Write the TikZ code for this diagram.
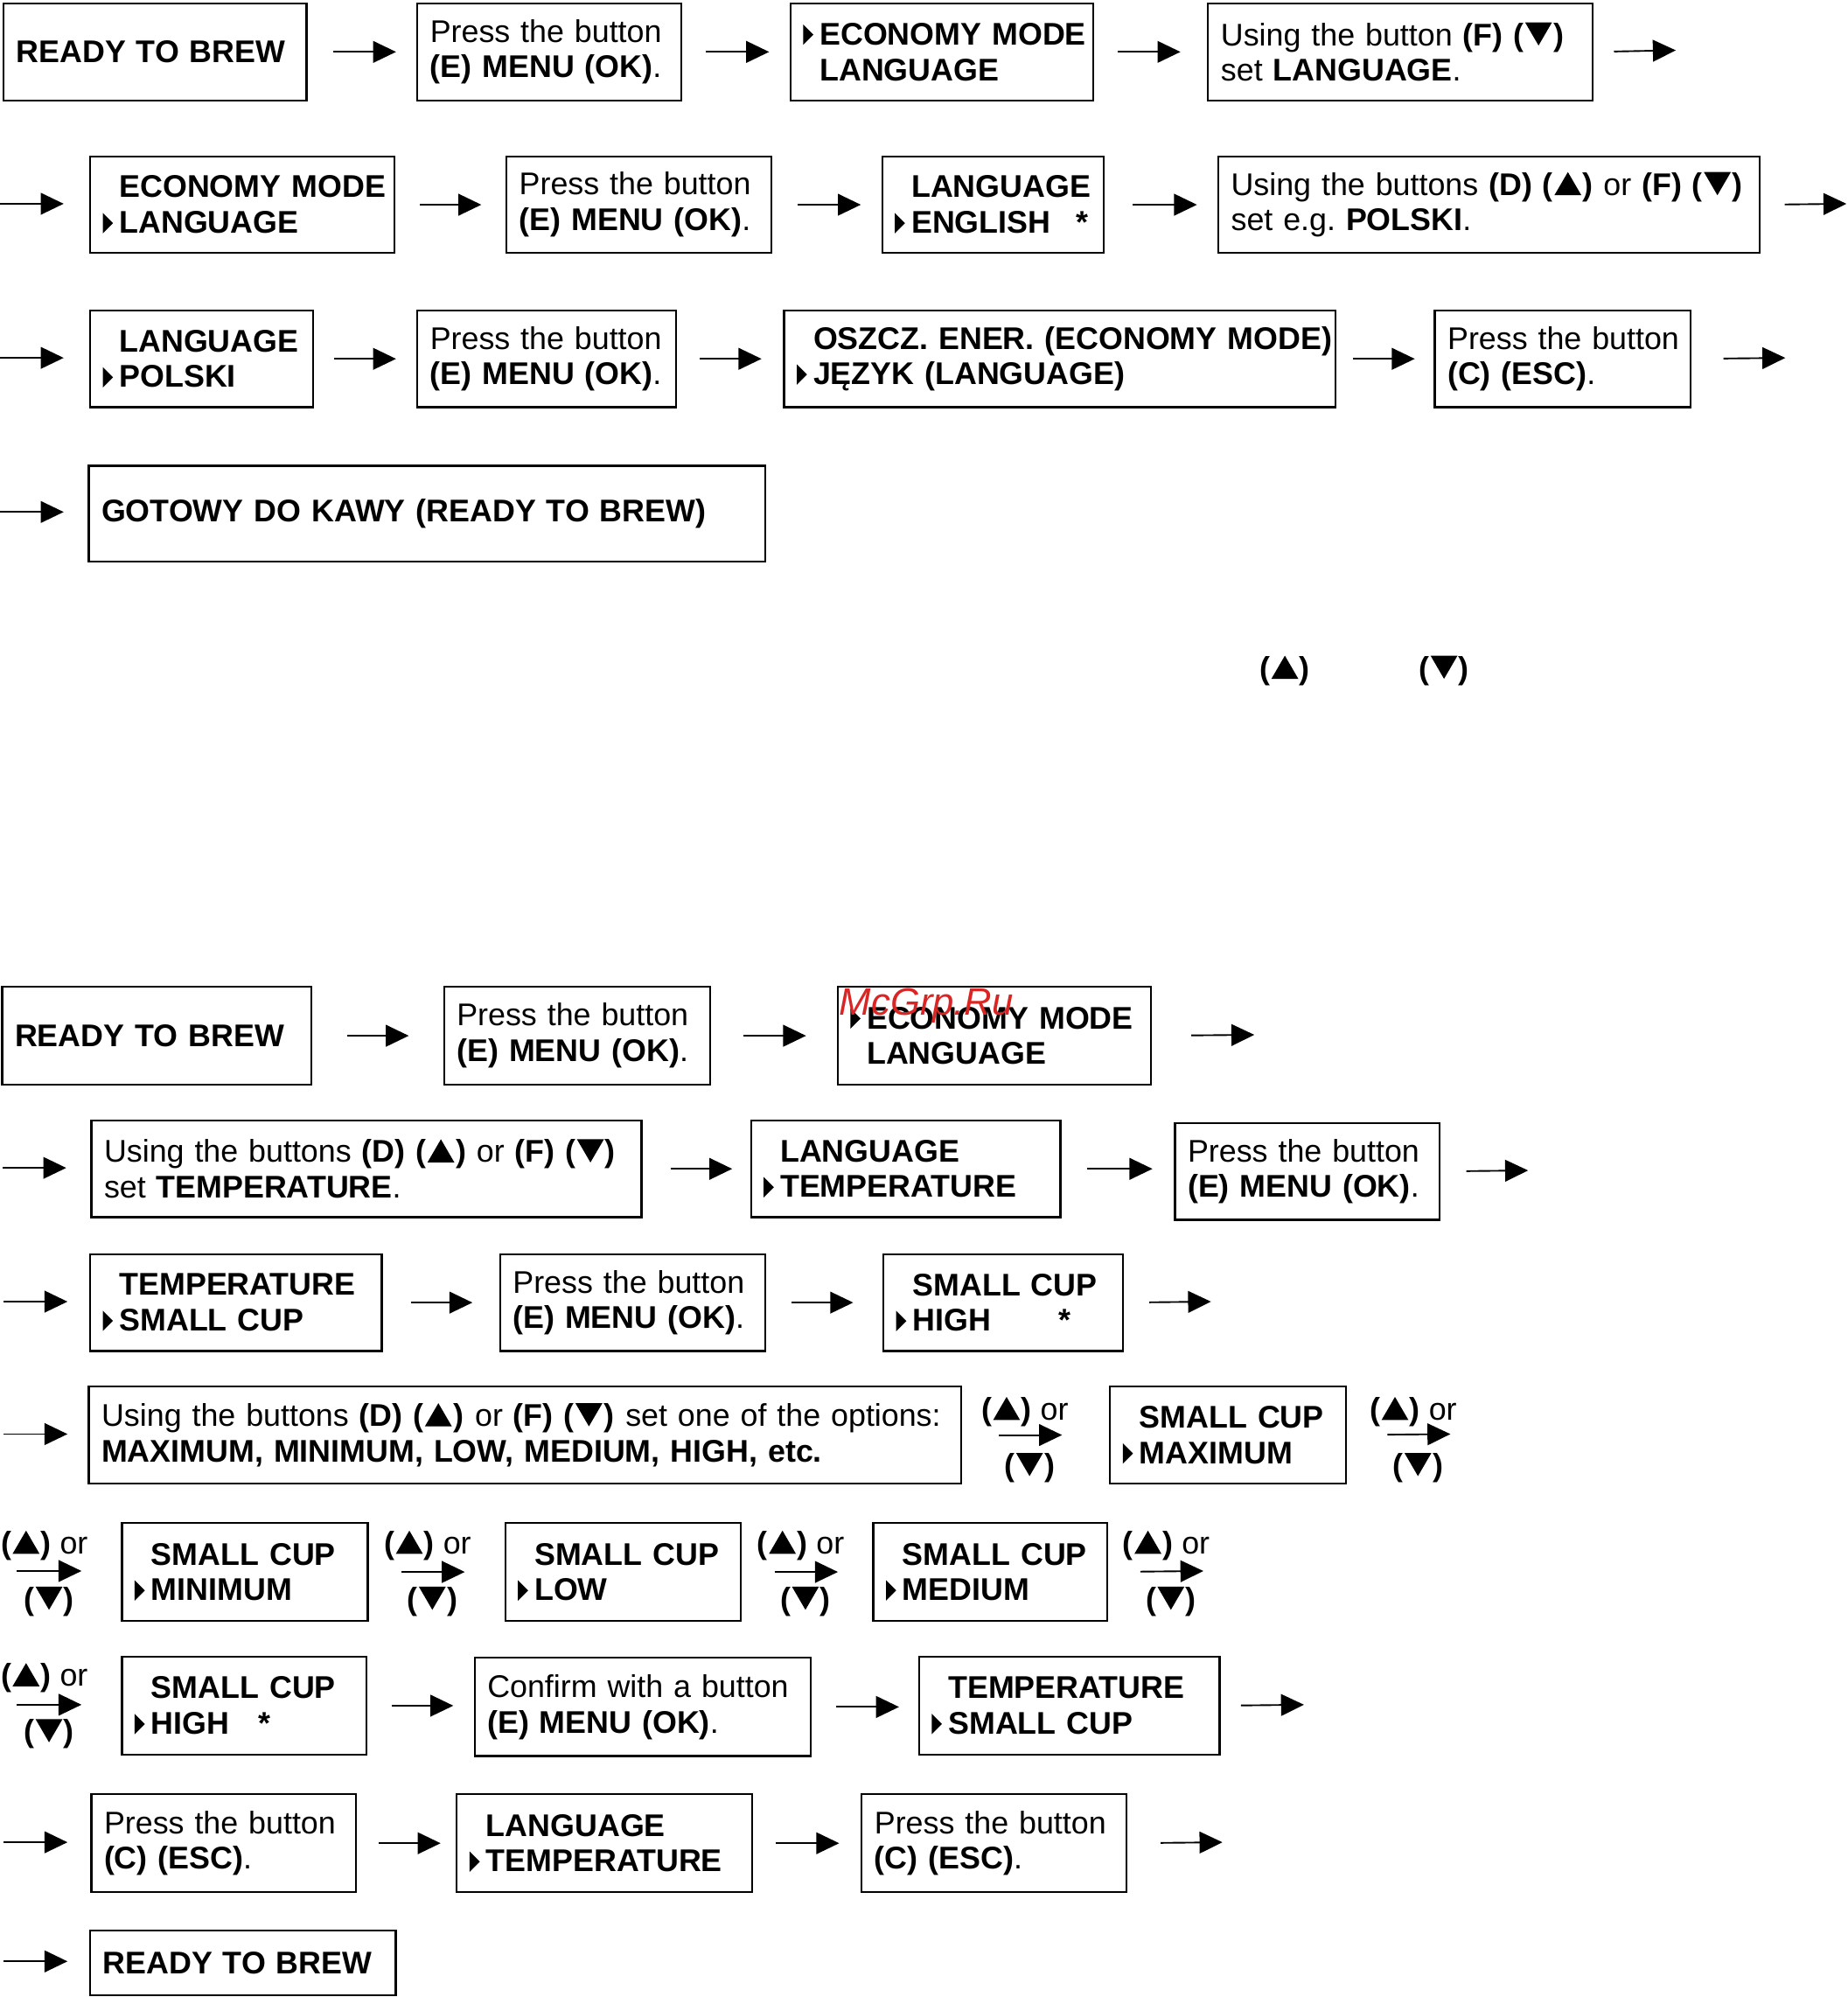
\documentclass[tikz,border=0pt]{standalone}
\usepackage{fontspec}
\setmainfont{Liberation Sans}
\usepackage{xcolor}
\usepackage{tikz}
\usetikzlibrary{arrows.meta, positioning, calc}

\definecolor{wmred}{RGB}{218,37,37}

% small glyphs used inside the boxes
\newcommand{\uptri}{\tikz[baseline=0pt]\fill (0,0) -- (0.86em,0) -- (0.43em,0.74em) -- cycle;}
\newcommand{\dntri}{\tikz[baseline=0pt]\fill (0,0.74em) -- (0.86em,0.74em) -- (0.43em,0) -- cycle;}
\newcommand{\upkey}{\textbf{(}\kern1pt\uptri\kern1pt\textbf{)}}
\newcommand{\dnkey}{\textbf{(}\kern1pt\dntri\kern1pt\textbf{)}}
\newcommand{\selptr}{\makebox[13pt][l]{\tikz[baseline=0pt]\fill (0,0) -- (8pt,8pt) -- (0,16pt) -- cycle;}}
\newcommand{\nptr}{\hspace*{13pt}}

\begin{document}
\begin{tikzpicture}[
    x=1pt, y=-1pt,
    every node/.style={font={\fontsize{24.6}{28}\selectfont\hyphenpenalty=10000}},
    box/.style={draw, line width=1.5pt, anchor=north west, align=left, inner xsep=10pt, inner ysep=0pt, minimum height=76pt, text width=#1},
    lbl/.style={inner sep=0pt, anchor=base},
    arr/.style={-{Triangle[length=18pt, width=17pt]}, line width=1.3pt, shorten <=19pt, shorten >=17pt}
]
\useasboundingbox (0,0) rectangle (1451,1568);

% Language - row 1
\node[box=218pt] (rtb1) at (2,2) {\textbf{READY TO BREW}};
\node[box=187pt] (menu1) at (327,2) {Press~the~button\\\textbf{(E) MENU (OK)}.};
\node[box=218pt] (eco1) at (620,2) {\selptr\textbf{ECONOMY~MODE}\\\nptr\textbf{LANGUAGE}};
\node[box=282pt] (setlang) at (948,2) {Using the button \textbf{(F)} \dnkey\\set \textbf{LANGUAGE}.};
\coordinate (out1) at (1316,39.5);

% Language - row 2
\coordinate (in2) at (0,160);
\node[box=219pt] (eco2) at (70,122) {\nptr\textbf{ECONOMY~MODE}\\\selptr\textbf{LANGUAGE}};
\node[box=188pt] (menu2) at (397,122) {Press~the~button\\\textbf{(E) MENU (OK)}.};
\node[box=154pt] (eng) at (692,122) {\nptr\textbf{LANGUAGE}\\\selptr\textbf{ENGLISH}\hspace{20pt}\textbf{*}};
\node[box=405pt] (setpl) at (956,122) {Using the buttons \textbf{(D)} \upkey\ or \textbf{(F)} \dnkey\\set e.g.\ \textbf{POLSKI}.};
\coordinate (out2) at (1450,160);

% Language - row 3
\coordinate (in3) at (0,281);
\node[box=155pt] (pl) at (70,243) {\nptr\textbf{LANGUAGE}\\\selptr\textbf{POLSKI}};
\node[box=183pt] (menu3) at (327,243) {Press~the~button\\\textbf{(E) MENU (OK)}.};
\node[box=413pt] (oszcz) at (615,243) {\nptr\textbf{OSZCZ.~ENER.~(ECONOMY~MODE)}\\\selptr\textbf{JĘZYK (LANGUAGE)}};
\node[box=181pt] (esc1) at (1126,243) {Press~the~button\\\textbf{(C) (ESC)}.};
\coordinate (out3) at (1402,281);

% Language - row 4
\coordinate (in4) at (0,402);
\node[box=511pt, minimum height=75pt] (gotowy) at (69,365) {\textbf{GOTOWY DO KAWY (READY TO BREW)}};

% lone keys
\node[lbl] (keyup) at (1009,533) {\upkey};
\node[lbl] (keydn) at (1134,533) {\dnkey};

% Arrows - language
\draw[arr, shorten <=20pt, shorten >=16pt] (rtb1.east) -- (rtb1.east -| menu1.west);
\draw[arr, shorten >=16pt] (menu1.east) -- (menu1.east -| eco1.west);
\draw[arr, shorten <=18pt, shorten >=21pt] (eco1.east) -- (eco1.east -| setlang.west);
\draw[arr, shorten <=16pt, shorten >=0pt] (setlang.east) -- (out1);
\draw[arr, shorten <=0pt, shorten >=20pt] (in2) -- (in2 -| eco2.west);
\draw[arr, shorten >=19pt] (eco2.east) -- (eco2.east -| menu2.west);
\draw[arr, shorten <=20pt, shorten >=16pt] (menu2.east) -- (menu2.east -| eng.west);
\draw[arr, shorten <=22pt, shorten >=16pt] (eng.east) -- (eng.east -| setpl.west);
\draw[arr, shorten >=0pt] (setpl.east) -- (out2);
\draw[arr, shorten <=0pt, shorten >=20pt] (in3) -- (in3 -| pl.west);
\draw[arr, shorten <=16pt, shorten >=16pt] (pl.east) -- (pl.east -| menu3.west);
\draw[arr, shorten <=18pt] (menu3.east) -- (menu3.east -| oszcz.west);
\draw[arr, shorten <=13pt, shorten >=15pt] (oszcz.east) -- (oszcz.east -| esc1.west);
\draw[arr, shorten <=25pt, shorten >=0pt] (esc1.east) -- (out3);
\draw[arr, shorten <=0pt, shorten >=19pt] (in4) -- (in4 -| gotowy.west);

% Temperature - row 1
\node[box=223pt, minimum height=77pt] (rtb2) at (1,774) {\textbf{READY TO BREW}};
\node[box=189pt, minimum height=77pt] (menu4) at (348,774) {Press~the~button\\\textbf{(E) MENU (OK)}.};
\node[box=226pt, minimum height=77pt] (eco3) at (657,774) {\selptr\textbf{ECONOMY~MODE}\\\nptr\textbf{LANGUAGE}};
\coordinate (out5) at (985,812.5);

% Temperature - row 2
\coordinate (in6) at (2,917);
\node[box=412pt] (settemp) at (71,879) {Using the buttons \textbf{(D)} \upkey\ or \textbf{(F)} \dnkey\\set \textbf{TEMPERATURE}.};
\node[box=223pt] (temp1) at (589,879) {\nptr\textbf{LANGUAGE}\\\selptr\textbf{TEMPERATURE}};
\node[box=188pt] (menu5) at (922,881) {Press~the~button\\\textbf{(E) MENU (OK)}.};
\coordinate (out6) at (1200,919);

% Temperature - row 3
\coordinate (in7) at (3,1022);
\node[box=209pt] (cup1) at (70,984) {\nptr\textbf{TEMPERATURE}\\\selptr\textbf{SMALL~CUP}};
\node[box=188pt] (menu6) at (392,984) {Press~the~button\\\textbf{(E) MENU (OK)}.};
\node[box=168pt] (high1) at (693,984) {\nptr\textbf{SMALL~CUP}\\\selptr\textbf{HIGH}\hspace{53pt}\textbf{*}};
\coordinate (out7) at (951,1022);

% Temperature - row 4
\coordinate (in8) at (3,1126);
\node[box=665pt] (opts) at (69,1088) {Using~the~buttons~\textbf{(D)}~\upkey\hspace{9pt}or~\textbf{(F)}~\dnkey\hspace{9pt}set~one~of~the~options:\\\textbf{MAXIMUM, MINIMUM, LOW, MEDIUM, HIGH, etc.}};
\node[box=165pt] (cmax) at (871,1088) {\nptr\textbf{SMALL~CUP}\\\selptr\textbf{MAXIMUM}};
\coordinate (out8) at (1139,1126);

% Temperature - row 5
\coordinate (in9) at (13,1233.5);
\node[box=173pt, minimum height=77pt] (cmin) at (95,1195) {\nptr\textbf{SMALL~CUP}\\\selptr\textbf{MINIMUM}};
\node[box=165pt, minimum height=77pt] (clow) at (396,1195) {\nptr\textbf{SMALL~CUP}\\\selptr\textbf{LOW}};
\node[box=164pt, minimum height=77pt] (cmed) at (685,1195) {\nptr\textbf{SMALL~CUP}\\\selptr\textbf{MEDIUM}};
\coordinate (out9) at (945,1233.5);

% Temperature - row 6
\coordinate (in10) at (13,1338.5);
\node[box=172pt, minimum height=77pt] (chigh) at (95,1300) {\nptr\textbf{SMALL~CUP}\\\selptr\textbf{HIGH}\hspace{23pt}\textbf{*}};
\node[box=244pt, minimum height=77pt] (confirm) at (372,1301) {Confirm~with~a~button\\\textbf{(E) MENU (OK)}.};
\node[box=216pt, minimum height=77pt] (cup2) at (721,1300) {\nptr\textbf{TEMPERATURE}\\\selptr\textbf{SMALL~CUP}};
\coordinate (out10) at (1024,1338.5);

% Temperature - row 7
\coordinate (in11) at (3,1446.5);
\node[box=188pt, minimum height=77pt] (esc2) at (71,1408) {Press~the~button\\\textbf{(C) (ESC)}.};
\node[box=212pt, minimum height=77pt] (temp2) at (358,1408) {\nptr\textbf{LANGUAGE}\\\selptr\textbf{TEMPERATURE}};
\node[box=188pt, minimum height=77pt] (esc3) at (676,1408) {Press~the~button\\\textbf{(C) (ESC)}.};
\coordinate (out11) at (960,1446.5);

% Temperature - row 8
\coordinate (in12) at (3,1540);
\node[box=220pt, minimum height=51pt] (rtb3) at (70,1515) {\textbf{READY TO BREW}};

% up/down keys above and below the arrows
\foreach \gx/\gy [count=\i] in {808.5/1126, 1113.5/1126, 38.5/1231, 339.5/1231, 632.5/1231, 919.5/1231, 38.5/1335} {
  \coordinate (g\i) at (\gx,\gy);
  \node[lbl, anchor=base west] (g\i up) at ($(g\i)+(-38,-11)$) {\upkey\ or};
  \node[lbl] (g\i dn) at ($(g\i)+(0,33)$) {\dnkey};
}

% Arrows - temperature
\draw[arr, shorten <=27pt, shorten >=27pt] (rtb2.east) -- (rtb2.east -| menu4.west);
\draw[arr, shorten <=25pt, shorten >=24pt] (menu4.east) -- (menu4.east -| eco3.west);
\draw[arr, shorten <=31pt, shorten >=0pt] (eco3.east) -- (out5);
\draw[arr, shorten <=0pt, shorten >=19pt] (in6) -- (in6 -| settemp.west);
\draw[arr, shorten <=22pt, shorten >=14pt] (settemp.east) -- (settemp.east -| temp1.west);
\draw[arr, shorten <=20pt] (temp1.east) -- (temp1.east -| menu5.west);
\draw[arr, shorten <=20pt, shorten >=0pt] (menu5.east) -- (out6);
\draw[arr, shorten <=0pt] (in7) -- (in7 -| cup1.west);
\draw[arr, shorten <=22pt, shorten >=21pt] (cup1.east) -- (cup1.east -| menu6.west);
\draw[arr, shorten <=20pt, shorten >=23pt] (menu6.east) -- (menu6.east -| high1.west);
\draw[arr, shorten <=20pt, shorten >=0pt] (high1.east) -- (out7);
\draw[arr, shorten <=0pt, shorten >=16pt] (in8) -- (in8 -| opts.west);
\draw[arr, shorten <=29pt, shorten >=37pt] (opts.east) -- (opts.east -| cmax.west);
\draw[arr, shorten <=32pt, shorten >=0pt] (cmax.east) -- (out8);
\draw[arr, shorten <=0pt, shorten >=31pt] (in9) -- (in9 -| cmin.west);
\draw[arr, shorten <=26pt, shorten >=31pt] (cmin.east) -- (cmin.east -| clow.west);
\draw[arr, shorten <=26pt, shorten >=27pt] (clow.east) -- (clow.east -| cmed.west);
\draw[arr, shorten <=25pt, shorten >=0pt] (cmed.east) -- (out9);
\draw[arr, shorten <=0pt, shorten >=31pt] (in10) -- (in10 -| chigh.west);
\draw[arr, shorten >=16pt] (chigh.east) -- (chigh.east -| confirm.west);
\draw[arr, shorten >=15pt] (confirm.east) -- (confirm.east -| cup2.west);
\draw[arr, shorten <=16pt, shorten >=0pt] (cup2.east) -- (out10);
\draw[arr, shorten <=0pt, shorten >=18pt] (in11) -- (in11 -| esc2.west);
\draw[arr, shorten <=17pt, shorten >=12pt] (esc2.east) -- (esc2.east -| temp2.west);
\draw[arr, shorten <=18pt] (temp2.east) -- (temp2.east -| esc3.west);
\draw[arr, shorten <=26pt, shorten >=0pt] (esc3.east) -- (out11);
\draw[arr, shorten <=0pt, shorten >=17pt] (in12) -- (in12 -| rtb3.west);

% watermark
\node[anchor=base west, inner sep=0pt, text=wmred, font=\fontsize{30}{30}\selectfont\itshape] (mark) at (659,797) {McGrp.Ru};

\end{tikzpicture}
\end{document}
